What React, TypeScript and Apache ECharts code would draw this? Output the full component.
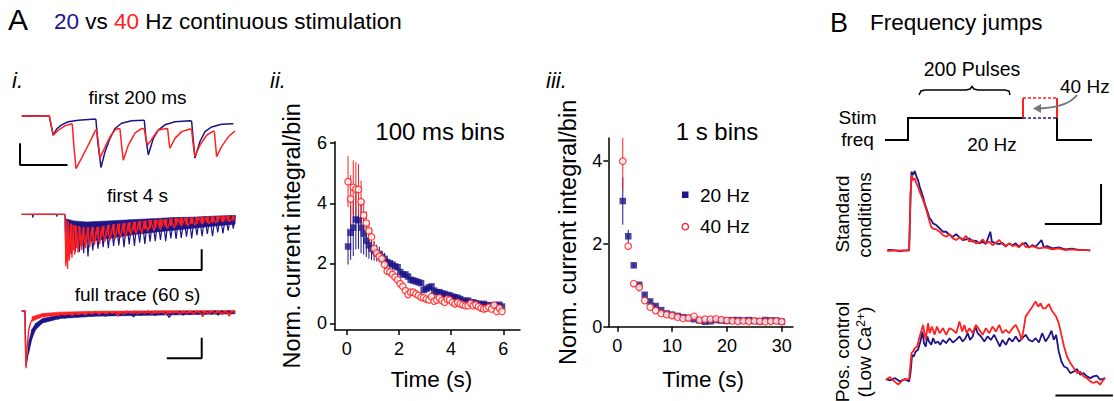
import React, { useEffect, useRef } from "react";
import * as echarts from "echarts";

const BLUE = "#1d1587";
const RED = "#ff2020";
const FONT = '"Liberation Sans", Arial, Helvetica, sans-serif';

// ---------- Panel A i: example traces ----------
// first 200 ms (time in ms, normalized current)
const trace200Blue: number[][] = [[-29,0],[-15,0.005],[0,0],[1,-0.1],[4.2,-0.37],[7.7,-0.25],[13,-0.17],[20,-0.11],[30.5,-0.08],[48.1,-0.06],[49.1,-0.07],[51,-0.5],[54.4,-0.99],[58.6,-0.69],[63.9,-0.43],[69.1,-0.24],[76.1,-0.14],[86.7,-0.09],[98.9,-0.08],[100,-0.09],[101.5,-0.4],[104.2,-0.75],[109.5,-0.43],[114.7,-0.27],[121.8,-0.17],[132.3,-0.11],[148.1,-0.09],[149.8,-0.1],[151.5,-0.45],[153.3,-0.81],[158.6,-0.49],[163.9,-0.3],[170.9,-0.21],[181.4,-0.16],[193.7,-0.15]];
const trace200Red: number[][] = [[-29,0],[0,0],[1,-0.1],[4.2,-0.37],[9.5,-0.27],[16.5,-0.19],[23.5,-0.15],[24.2,-0.16],[26,-0.6],[28.1,-1.01],[34,-0.81],[39.3,-0.62],[44.6,-0.43],[48.1,-0.29],[49.8,-0.26],[51.5,-0.5],[53.3,-0.81],[58.6,-0.6],[63.9,-0.4],[69.1,-0.27],[72.6,-0.24],[74.4,-0.25],[76,-0.55],[77.9,-0.85],[83.2,-0.56],[90.2,-0.33],[97.2,-0.24],[100,-0.25],[102,-0.45],[103.5,-0.56],[109.5,-0.4],[114.7,-0.27],[123.5,-0.24],[124.6,-0.25],[126,-0.5],[127,-0.62],[132.3,-0.43],[139.3,-0.3],[148.1,-0.25],[149.8,-0.26],[151.5,-0.55],[153.3,-0.78],[158.6,-0.56],[165.6,-0.37],[172.6,-0.29],[173.7,-0.3],[175,-0.55],[176.1,-0.78],[181.4,-0.59],[188.4,-0.4],[195.4,-0.29]];
const scale200: number[][] = [[-30.8,-0.525],[-30.8,-0.94],[19.2,-0.94]];

// first 4 s (time in s): spikes + dense envelope [t, upper, lower]
const trace4sBlue: number[][] = [[-1,0],[-0.75,0],[-0.74,-0.06],[-0.73,0],[-0.2,0],[-0.19,-0.04],[-0.18,0],[0,0],[0.02,-0.7],[0.05,-0.1],[0.08,-0.74],[0.11,-0.12],[0.15,-0.72],[0.19,-0.13],[0.23,-0.7],[0.28,-0.15],[0.33,-0.69],[0.38,-0.15],[0.43,-0.71],[0.48,-0.15],[0.53,-0.77],[0.58,-0.15],[0.64,-0.66],[0.7,-0.15],[0.76,-0.63],[0.82,-0.14],[0.88,-0.6],[0.94,-0.14],[1.0,-0.62],[1.06,-0.13],[1.12,-0.58],[1.18,-0.13],[1.24,-0.57],[1.3,-0.12],[1.36,-0.6],[1.42,-0.12],[1.48,-0.55],[1.54,-0.11],[1.6,-0.58],[1.66,-0.11],[1.72,-0.52],[1.78,-0.1],[1.84,-0.54],[1.9,-0.1],[1.96,-0.5],[2.02,-0.09],[2.08,-0.49],[2.14,-0.09],[2.2,-0.47],[2.26,-0.08],[2.32,-0.49],[2.38,-0.08],[2.44,-0.44],[2.5,-0.07],[2.56,-0.45],[2.62,-0.07],[2.68,-0.43],[2.74,-0.06],[2.8,-0.41],[2.86,-0.06],[2.92,-0.44],[2.98,-0.05],[3.04,-0.38],[3.1,-0.05],[3.16,-0.4],[3.22,-0.04],[3.28,-0.36],[3.34,-0.04],[3.4,-0.4],[3.46,-0.04],[3.52,-0.33],[3.58,-0.03],[3.64,-0.35],[3.7,-0.03],[3.76,-0.3],[3.82,-0.02],[3.88,-0.26],[3.92,-0.02]];
const trace4sRed: number[][] = [[-1,0],[-0.5,0.005],[-0.02,0],[0,-0.02],[0.02,-0.95],[0.04,-0.1],[0.06,-1.0],[0.08,-0.15],[0.1,-0.85],[0.13,-0.18],[0.16,-0.8],[0.19,-0.2],[0.22,-0.74],[0.26,-0.22],[0.3,-0.7],[0.34,-0.24],[0.38,-0.65],[0.42,-0.25],[0.47,-0.62],[0.52,-0.26],[0.57,-0.6],[0.62,-0.25],[0.68,-0.56],[0.74,-0.25],[0.8,-0.54],[0.86,-0.24],[0.92,-0.5],[0.98,-0.23],[1.04,-0.48],[1.1,-0.21],[1.16,-0.45],[1.22,-0.19],[1.28,-0.43],[1.34,-0.17],[1.4,-0.42],[1.46,-0.16],[1.52,-0.38],[1.58,-0.15],[1.64,-0.36],[1.7,-0.14],[1.77,-0.35],[1.84,-0.13],[1.91,-0.31],[1.98,-0.12],[2.05,-0.3],[2.12,-0.11],[2.2,-0.28],[2.28,-0.1],[2.36,-0.26],[2.44,-0.09],[2.52,-0.25],[2.6,-0.08],[2.68,-0.22],[2.76,-0.08],[2.84,-0.21],[2.92,-0.07],[3.0,-0.2],[3.08,-0.06],[3.16,-0.18],[3.24,-0.06],[3.32,-0.17],[3.4,-0.05],[3.48,-0.16],[3.56,-0.04],[3.64,-0.14],[3.72,-0.04],[3.8,-0.13],[3.88,-0.03],[3.92,-0.1]];
const band4sBlue: number[][] = [[0.01,-0.08,-0.58],[0.2,-0.12,-0.55],[0.5,-0.14,-0.5],[1.0,-0.12,-0.44],[1.5,-0.1,-0.38],[2.0,-0.08,-0.33],[2.5,-0.06,-0.29],[3.0,-0.05,-0.25],[3.5,-0.03,-0.21],[3.92,-0.02,-0.18]];
const band4sRed: number[][] = [[0.01,-0.1,-0.9],[0.1,-0.15,-0.75],[0.2,-0.2,-0.64],[0.4,-0.24,-0.55],[0.6,-0.24,-0.48],[0.8,-0.23,-0.43],[1.0,-0.2,-0.38],[1.3,-0.17,-0.34],[1.6,-0.14,-0.3],[2.0,-0.11,-0.25],[2.5,-0.08,-0.2],[3.0,-0.06,-0.17],[3.5,-0.04,-0.14],[3.92,-0.03,-0.11]];
const scale4s: number[][] = [[2.15,-1.02],[3.15,-1.02],[3.15,-0.64]];

// full trace 60 s (time in s)
const trace60Blue: number[][] = [[-0.95,0],[0,0],[0.1,-0.4],[0.3,-0.95],[0.48,-0.88],[0.95,-0.71],[1.2,-0.62],[1.43,-0.53],[1.7,-0.5],[1.9,-0.42],[2.3,-0.38],[2.67,-0.3],[3.2,-0.28],[3.8,-0.215],[4.5,-0.22],[5.2,-0.16],[6,-0.18],[6.7,-0.13],[7.5,-0.16],[8.5,-0.1],[9.5,-0.14],[10.5,-0.08],[11.5,-0.12],[12.5,-0.07],[13.3,-0.11],[14.2,-0.06],[15.2,-0.1],[16.2,-0.05],[17.2,-0.1],[18.2,-0.05],[19.2,-0.09],[20.2,-0.04],[21,-0.08],[22,-0.04],[23,-0.09],[24,-0.03],[25,-0.07],[26,-0.03],[27,-0.08],[28,-0.03],[29,-0.07],[30,-0.02],[31,-0.1],[32,-0.02],[33,-0.07],[34,-0.02],[35.2,-0.06],[36.2,-0.02],[37.2,-0.08],[38.2,-0.02],[39.2,-0.06],[40.2,-0.02],[41.2,-0.11],[42.2,-0.02],[43.2,-0.06],[44.2,-0.01],[45.2,-0.07],[46.2,-0.01],[47.2,-0.06],[48.2,-0.01],[49.2,-0.05],[50.2,-0.01],[51.2,-0.06],[52.2,-0.01],[53.2,-0.05],[54.2,0],[55.2,-0.07],[56.2,0],[57.2,-0.04],[58.2,0],[59,-0.04],[60,-0.01]];
const trace60Red: number[][] = [[-0.95,0],[0,0],[0.1,-0.5],[0.29,-1.0],[0.5,-0.75],[0.76,-0.53],[1.14,-0.3],[1.7,-0.19],[2.4,-0.13],[3.3,-0.09],[4.0,-0.12],[4.8,-0.07],[5.5,-0.1],[6.7,-0.05],[7.5,-0.09],[8.5,-0.04],[9.5,-0.08],[10.5,-0.04],[11.4,-0.07],[12.5,-0.03],[13.5,-0.08],[14.5,-0.03],[15.5,-0.06],[16.2,-0.02],[17.2,-0.07],[18.2,-0.02],[19.2,-0.05],[20.2,-0.01],[21.2,-0.06],[22.2,-0.01],[23.2,-0.05],[24.2,-0.01],[25,-0.04],[25.7,-0.01],[26.5,-0.09],[27.2,-0.01],[28.2,-0.05],[29.2,0],[30.2,-0.04],[31.2,0],[32.2,-0.05],[33.2,0],[34.2,-0.04],[35.2,0.005],[36.2,-0.05],[37.2,0],[38.2,-0.04],[39.2,0],[40.2,-0.06],[41.2,0],[42.2,-0.04],[43.2,0],[44.2,-0.05],[45.2,0],[46.2,-0.04],[47.2,0],[48.2,-0.05],[49.2,0.005],[50.2,-0.04],[50.8,-0.1],[51.4,0],[52.4,-0.05],[53.4,0],[54.4,-0.04],[55.4,0],[56.4,-0.06],[57.4,0],[58.4,-0.09],[59,0],[60,-0.03]];
const band60Blue: number[][] = [[1,-0.55,-0.75],[2,-0.32,-0.48],[3,-0.22,-0.33],[5,-0.13,-0.21],[10,-0.07,-0.13],[20,-0.035,-0.09],[40,-0.015,-0.07],[60,-0.005,-0.05]];
const band60Red: number[][] = [[2,-0.1,-0.18],[5,-0.045,-0.1],[10,-0.02,-0.07],[20,-0.005,-0.05],[40,0.005,-0.04],[60,0.01,-0.035]];
const scale60: number[][] = [[40.5,-0.825],[50.5,-0.825],[50.5,-0.466]];

// ---------- Panel A ii: 100 ms bins ----------
const binTime100: number[] = [0.05,0.15,0.25,0.35,0.45,0.55,0.65,0.75,0.85,0.95,1.05,1.15,1.25,1.35,1.45,1.55,1.65,1.75,1.85,1.95,2.05,2.15,2.25,2.35,2.45,2.55,2.65,2.75,2.85,2.95,3.05,3.15,3.25,3.35,3.45,3.55,3.65,3.75,3.85,3.95,4.05,4.15,4.25,4.35,4.45,4.55,4.65,4.75,4.85,4.95,5.05,5.15,5.25,5.35,5.45,5.55,5.65,5.75,5.85,5.95];
const blue100: number[] = [2.56,3.02,3.19,3.46,3.43,3.19,2.99,2.76,2.6,2.49,2.41,2.34,2.3,2.21,2.15,2.04,2.0,1.96,1.9,1.87,1.71,1.63,1.63,1.56,1.45,1.43,1.4,1.37,1.34,1.11,1.15,1.2,1.23,1.09,1.04,1.04,1.0,0.98,0.95,0.93,0.89,0.87,0.85,0.81,0.76,0.74,0.76,0.7,0.7,0.67,0.65,0.62,0.65,0.61,0.59,0.59,0.61,0.59,0.62,0.56];
const blue100Err: number[] = [0.6,0.9,0.95,1.0,0.95,0.85,0.7,0.55,0.45,0.38,0.32,0.28,0.25,0.22,0.2,0.15,0.12,0.12,0.1,0.1,0.1,0.09,0.09,0.08,0.08,0.08,0.08,0.07,0.07,0.07,0.07,0.06,0.06,0.06,0.06,0.06,0.06,0.05,0.05,0.05,0.05,0.05,0.05,0.05,0.05,0.05,0.05,0.05,0.05,0.05,0.05,0.05,0.05,0.05,0.05,0.05,0.05,0.05,0.05,0.05];
const red100: number[] = [4.72,4.14,4.53,4.47,4.46,4.05,3.6,3.34,3.08,2.88,2.49,2.34,2.23,2.15,1.96,1.74,1.71,1.63,1.54,1.45,1.32,1.23,1.09,0.96,1.04,1.04,0.98,0.93,0.87,0.85,0.81,0.78,0.89,0.74,0.78,0.85,0.76,0.7,0.81,0.78,0.7,0.65,0.7,0.65,0.62,0.59,0.59,0.67,0.59,0.62,0.56,0.51,0.48,0.5,0.54,0.48,0.61,0.4,0.51,0.4];
const red100Err: number[] = [0.85,0.8,0.9,0.9,0.85,0.7,0.5,0.4,0.35,0.3,0.25,0.22,0.2,0.18,0.15,0.12,0.12,0.1,0.1,0.1,0.09,0.09,0.08,0.08,0.08,0.08,0.07,0.07,0.07,0.07,0.06,0.06,0.06,0.06,0.06,0.06,0.05,0.05,0.05,0.05,0.05,0.05,0.05,0.05,0.05,0.05,0.05,0.05,0.05,0.05,0.05,0.05,0.05,0.05,0.05,0.05,0.05,0.05,0.05,0.05];
const ticks100X: number[] = [0, 2, 4, 6];
const ticks100Y: number[] = [0, 2, 4, 6];

// ---------- Panel A iii: 1 s bins ----------
const binTime1s: number[] = [1,2,3,4,5,6,7,8,9,10,11,12,13,14,15,16,17,18,19,20,21,22,23,24,25,26,27,28,29,30];
const blue1s: number[] = [3.03,2.18,1.48,1.01,0.77,0.61,0.5,0.4,0.32,0.29,0.26,0.23,0.21,0.18,0.15,0.12,0.13,0.16,0.15,0.14,0.16,0.16,0.15,0.16,0.14,0.13,0.16,0.15,0.15,0.12];
const blue1sErr: number[] = [0.57,0.15,0.06,0.05,0.04,0.04,0.03,0.03,0.03,0.03,0.03,0.02,0.02,0.02,0.02,0.02,0.02,0.02,0.02,0.02,0.02,0.02,0.02,0.02,0.02,0.02,0.02,0.02,0.02,0.02];
const red1s: number[] = [3.99,1.94,1.04,0.95,0.63,0.47,0.39,0.32,0.29,0.27,0.23,0.2,0.21,0.25,0.16,0.18,0.18,0.19,0.17,0.15,0.14,0.13,0.14,0.13,0.14,0.13,0.12,0.13,0.14,0.12];
const red1sErr: number[] = [0.7,0.08,0.06,0.1,0.05,0.04,0.03,0.03,0.03,0.03,0.03,0.02,0.02,0.02,0.02,0.02,0.02,0.02,0.02,0.02,0.02,0.02,0.02,0.02,0.02,0.02,0.02,0.02,0.02,0.02];
const ticks1sX: number[] = [0, 10, 20, 30];
const ticks1sY: number[] = [0, 2, 4];

// ---------- Panel B: frequency jumps (time in s, normalized signal) ----------
const stdBlue: number[][] = [[-1.94,0.01],[-1.41,0.008],[-0.82,-0.004],[-0.24,0.004],[0,0.01],[0.12,0.64],[0.21,1.0],[0.35,0.958],[0.5,1.01],[0.65,0.937],[0.79,0.895],[0.94,0.81],[1.09,0.747],[1.24,0.68],[1.38,0.6],[1.53,0.536],[1.68,0.47],[1.82,0.41],[1.97,0.388],[2.12,0.346],[2.41,0.325],[2.71,0.283],[3.0,0.24],[3.29,0.24],[3.59,0.198],[3.88,0.177],[4.18,0.21],[4.47,0.169],[4.76,0.135],[5.06,0.143],[5.35,0.156],[5.65,0.114],[5.94,0.127],[6.24,0.093],[6.53,0.114],[6.82,0.084],[7.21,0.24],[7.35,0.114],[7.71,0.093],[8.0,0.084],[8.29,0.1],[8.59,0.059],[8.88,0.093],[9.18,0.07],[9.47,0.093],[9.76,0.05],[10.06,0.084],[10.35,0.1],[10.65,0.042],[10.94,0.07],[11.24,0.05],[11.76,0.135],[11.97,0.042],[12.26,0.059],[12.71,0.03],[13.29,0.042],[13.88,0.017],[14.47,0.025],[15.06,0.01],[15.65,0.01],[16.09,0]];
const stdRed: number[][] = [[-1.94,-0.004],[-1.12,0.004],[0,0],[0.12,0.726],[0.24,0.958],[0.35,0.895],[0.5,0.916],[0.65,0.85],[0.79,0.81],[0.94,0.747],[1.24,0.64],[1.53,0.515],[1.82,0.367],[1.97,0.3],[2.12,0.28],[2.41,0.27],[2.71,0.24],[3.0,0.198],[3.29,0.177],[3.59,0.21],[3.88,0.156],[4.18,0.135],[4.47,0.169],[4.76,0.143],[5.06,0.186],[5.35,0.114],[5.65,0.135],[5.94,0.093],[6.24,0.1],[6.53,0.143],[6.82,0.093],[7.12,0.114],[7.41,0.07],[7.71,0.1],[8.0,0.135],[8.29,0.084],[8.59,0.05],[8.88,0.093],[9.18,0.059],[9.47,0.07],[9.76,0.042],[10.06,0.1],[10.35,0.05],[10.65,0.042],[10.94,0.059],[11.53,0.03],[12.12,0.042],[12.71,0.017],[13.29,0.03],[13.88,0.008],[14.47,0.017],[15.06,0.008],[16.09,0.008]];
const stdScale: number[][] = [[12.05,0.338],[17.05,0.338],[17.05,0.844]];
const posBlue: number[][] = [[-2.06,0.008],[-1.71,-0.008],[-1.26,0.021],[-0.82,-0.021],[-0.38,0.008],[0,-0.021],[0.12,0.084],[0.26,0.316],[0.41,0.295],[0.59,0.359],[0.79,0.38],[1.0,0.485],[1.18,0.612],[1.32,0.464],[1.47,0.422],[1.62,0.549],[1.76,0.485],[1.97,0.443],[2.12,0.527],[2.32,0.464],[2.56,0.485],[2.76,0.443],[3.0,0.506],[3.29,0.464],[3.59,0.527],[3.88,0.473],[4.18,0.506],[4.47,0.549],[4.76,0.485],[5.0,0.527],[5.21,0.591],[5.41,0.506],[5.65,0.549],[5.88,0.675],[6.09,0.591],[6.38,0.549],[6.68,0.485],[6.97,0.549],[7.26,0.506],[7.56,0.57],[7.85,0.485],[8.06,0.422],[8.29,0.506],[8.59,0.443],[8.88,0.527],[9.18,0.485],[9.47,0.549],[9.76,0.485],[10.06,0.527],[10.35,0.57],[10.65,0.506],[10.94,0.485],[11.24,0.527],[11.53,0.473],[11.82,0.591],[12.12,0.485],[12.41,0.549],[12.65,0.624],[12.85,0.506],[13.06,0.57],[13.29,0.359],[13.53,0.232],[13.76,0.169],[14.03,0.148],[14.32,0.084],[14.62,0.105],[14.91,0.135],[15.21,0.063],[15.5,0.084],[15.79,0.042],[16.09,0.021],[16.38,0.042],[16.68,0.051],[16.97,0],[17.41,0.021]];
const posRed: number[][] = [[-2.06,0],[-1.71,0.034],[-1.41,-0.008],[-0.97,-0.063],[-0.53,0],[0,0.008],[0.21,0.338],[0.35,0.359],[0.5,0.4],[0.71,0.422],[0.94,0.549],[1.24,0.696],[1.47,0.506],[1.68,0.717],[1.82,0.591],[2.03,0.675],[2.26,0.57],[2.47,0.675],[2.71,0.591],[3.0,0.654],[3.29,0.57],[3.59,0.654],[3.88,0.633],[4.18,0.591],[4.47,0.738],[4.71,0.612],[4.91,0.696],[5.12,0.591],[5.35,0.654],[5.65,0.591],[5.94,0.696],[6.24,0.633],[6.53,0.57],[6.82,0.654],[7.12,0.591],[7.41,0.675],[7.71,0.612],[8.0,0.696],[8.29,0.591],[8.59,0.633],[8.88,0.591],[9.18,0.654],[9.47,0.696],[9.76,0.612],[10.0,0.506],[10.21,0.675],[10.35,0.802],[10.65,0.865],[10.94,0.928],[11.24,0.992],[11.47,0.928],[11.68,0.97],[11.88,0.907],[12.12,0.907],[12.41,0.962],[12.65,0.886],[12.85,0.844],[13.06,0.802],[13.29,0.717],[13.53,0.57],[13.76,0.422],[14.03,0.295],[14.32,0.211],[14.62,0.148],[14.91,0.084],[15.21,0.105],[15.5,0.042],[15.79,0.021],[16.09,-0.021],[16.38,-0.042],[16.68,-0.021],[16.97,-0.063],[17.26,0],[17.41,0.021]];
const posScale: number[][] = [[13.0,-0.2],[18.1,-0.2]];

const hiddenAxis = (gridIndex: number, min: number, max: number) => ({ type: "value", gridIndex, min, max, show: false });

const lineSeries = (data: number[][], color: string, axis: number, width: number) => ({
  type: "line", xAxisIndex: axis, yAxisIndex: axis, data, showSymbol: false, symbol: "none",
  lineStyle: { color, width }, itemStyle: { color }, silent: true, animation: false,
});

// dense noise band between an upper and lower envelope, drawn segment by segment
const bandSeries = (env: number[][], color: string, axis: number) => ({
  type: "custom", xAxisIndex: axis, yAxisIndex: axis, clip: true, silent: true,
  data: env.slice(0, -1).map((p, i) => [p[0], p[1], p[2], env[i + 1][0], env[i + 1][1], env[i + 1][2]]),
  encode: { x: 0, y: 1 },
  renderItem: (params: any, api: any) => {
    const a = api.coord([api.value(0), api.value(1)]);
    const b = api.coord([api.value(3), api.value(4)]);
    const c = api.coord([api.value(3), api.value(5)]);
    const d = api.coord([api.value(0), api.value(2)]);
    return { type: "polygon", shape: { points: [a, b, c, d] }, style: { fill: color, stroke: color, lineWidth: 0.6 } };
  },
});

const errSeries = (x: number[], y: number[], e: number[], color: string, axis: number) => ({
  type: "custom", xAxisIndex: axis, yAxisIndex: axis, clip: true, silent: true,
  data: x.map((t, i) => [t, y[i], e[i]]),
  encode: { x: 0, y: 1 },
  renderItem: (params: any, api: any) => {
    const xv = api.value(0), yv = api.value(1), ev = api.value(2);
    const p1 = api.coord([xv, yv + ev]);
    const p2 = api.coord([xv, yv - ev]);
    return { type: "line", shape: { x1: p1[0], y1: p1[1], x2: p2[0], y2: p2[1] }, style: { stroke: color, lineWidth: 1 } };
  },
});

const axisStyle = { color: "#000", width: 1.5 };
const dataAxis = (gridIndex: number, min: number, max: number, ticks: number[], name: string, nameGap: number, nameSize: number, labelMargin: number, padding: number[]) => ({
  type: "value", gridIndex, min, max, name, nameLocation: "middle", nameGap,
  nameTextStyle: { fontSize: nameSize, fontFamily: FONT, color: "#000", padding },
  axisLine: { show: true, onZero: false, lineStyle: axisStyle },
  axisTick: { show: true, length: 5, lineStyle: axisStyle, customValues: ticks },
  axisLabel: { customValues: ticks, fontSize: 18, fontFamily: FONT, color: "#000", margin: labelMargin },
  splitLine: { show: false },
});

const txt = (text: string, x: number, y: number, size: number, extra: any = {}) => ({
  type: "text", x, y, silent: true, rotation: extra.rotation || 0,
  style: {
    text, fontSize: size, fontFamily: FONT, fill: extra.fill || "#000",
    fontStyle: extra.fontStyle || "normal",
    align: extra.align || "left", textAlign: extra.align || "left",
    verticalAlign: "middle", textVerticalAlign: "middle",
    rich: extra.rich,
  },
});

export default function App() {
  const ref = useRef<HTMLDivElement>(null);
  useEffect(() => {
    if (!ref.current) return;
    const chart = echarts.init(ref.current, null, { renderer: "svg" });
    const option: any = {
      animation: false,
      backgroundColor: "#fff",
      textStyle: { fontFamily: FONT },
      grid: [
        { left: 19.85, top: 105.6, width: 215.65, height: 67.6 },
        { left: 21.6, top: 203.4, width: 214.8, height: 71.1 },
        { left: 21.5, top: 302.4, width: 214.5, height: 71.6 },
        { left: 335, top: 141.7, width: 185, height: 188.3 },
        { left: 608.3, top: 138, width: 184.7, height: 188.7 },
        { left: 885.5, top: 163.8, width: 230.2, height: 94.8 },
        { left: 885.5, top: 293.1, width: 230.2, height: 108.2 },
      ],
      xAxis: [
        hiddenAxis(0, -31, 196),
        hiddenAxis(1, -1.0, 3.95),
        hiddenAxis(2, -1.0, 60.3),
        dataAxis(3, -0.45, 6.64, ticks100X, "Time (s)", 38, 22.5, 10, [0, 0, 0, 8]),
        dataAxis(4, -1.64, 32.06, ticks1sX, "Time (s)", 41, 22.5, 10, [0, 0, 0, 5]),
        hiddenAxis(5, -2.1, 18.2),
        hiddenAxis(6, -2.1, 18.2),
      ],
      yAxis: [
        hiddenAxis(0, -1.1, 0.2),
        hiddenAxis(1, -1.1, 0.2),
        hiddenAxis(2, -1.1, 0.15),
        dataAxis(3, -0.22, 6.05, ticks100Y, "Norm. current integral/bin", 31, 23.5, 8, [0, 0, 0, 0]),
        dataAxis(4, 0, 4.55, ticks1sY, "Norm. current integral/bin", 28, 23.5, 6, [0, 0, 0, 0]),
        hiddenAxis(5, -0.1, 1.1),
        hiddenAxis(6, -0.27, 1.1),
      ],
      series: [
        lineSeries(trace200Blue, BLUE, 0, 1.5),
        lineSeries(trace200Red, RED, 0, 1.5),
        lineSeries(scale200, "#000", 0, 2),
        bandSeries(band4sBlue, BLUE, 1),
        lineSeries(trace4sBlue, BLUE, 1, 1.2),
        bandSeries(band4sRed, RED, 1),
        lineSeries(trace4sRed, RED, 1, 1.2),
        lineSeries(scale4s, "#000", 1, 2),
        bandSeries(band60Blue, BLUE, 2),
        lineSeries(trace60Blue, BLUE, 2, 1.4),
        bandSeries(band60Red, RED, 2),
        lineSeries(trace60Red, RED, 2, 1.4),
        lineSeries(scale60, "#000", 2, 2),
        errSeries(binTime100, blue100, blue100Err, BLUE, 3),
        { type: "scatter", name: "20 Hz", xAxisIndex: 3, yAxisIndex: 3, symbol: "rect", symbolSize: 6.5, itemStyle: { color: BLUE }, data: binTime100.map((t, i) => [t, blue100[i]]) },
        errSeries(binTime100, red100, red100Err, RED, 3),
        { type: "scatter", name: "40 Hz", xAxisIndex: 3, yAxisIndex: 3, symbol: "circle", symbolSize: 6.5, itemStyle: { color: "#fff", borderColor: RED, borderWidth: 1.3 }, data: binTime100.map((t, i) => [t, red100[i]]) },
        errSeries(binTime1s, blue1s, blue1sErr, BLUE, 4),
        { type: "scatter", name: "20 Hz", xAxisIndex: 4, yAxisIndex: 4, symbol: "rect", symbolSize: 6.5, itemStyle: { color: BLUE }, data: binTime1s.map((t, i) => [t, blue1s[i]]) },
        errSeries(binTime1s, red1s, red1sErr, RED, 4),
        { type: "scatter", name: "40 Hz", xAxisIndex: 4, yAxisIndex: 4, symbol: "circle", symbolSize: 6.5, itemStyle: { color: "#fff", borderColor: RED, borderWidth: 1.3 }, data: binTime1s.map((t, i) => [t, red1s[i]]) },
        lineSeries(stdBlue, BLUE, 5, 1.8),
        lineSeries(stdRed, RED, 5, 1.8),
        lineSeries(stdScale, "#000", 5, 2),
        lineSeries(posBlue, BLUE, 6, 1.8),
        lineSeries(posRed, RED, 6, 1.8),
        lineSeries(posScale, "#000", 6, 2),
      ],
      graphic: [
        txt("A", 8, 19.5, 30),
        txt("{b|20} vs {r|40} Hz continuous stimulation", 54, 21.3, 22.5, {
          rich: {
            b: { fill: BLUE, fontSize: 22.5, fontFamily: FONT },
            r: { fill: RED, fontSize: 22.5, fontFamily: FONT },
          },
        }),
        txt("i.", 12, 80, 22, { fontStyle: "italic" }),
        txt("ii.", 270, 80, 22, { fontStyle: "italic" }),
        txt("iii.", 546, 80, 22, { fontStyle: "italic" }),
        txt("first 200 ms", 137.5, 97.5, 19, { align: "center" }),
        txt("first 4 s", 137.5, 195.5, 19, { align: "center" }),
        txt("full trace (60 s)", 137.5, 294.5, 19, { align: "center" }),
        txt("100 ms bins", 440, 131, 24, { align: "center" }),
        txt("1 s bins", 717, 131, 24, { align: "center" }),
        { type: "rect", silent: true, shape: { x: 682, y: 191.5, width: 6.5, height: 6.5 }, style: { fill: BLUE } },
        { type: "circle", silent: true, shape: { cx: 685.3, cy: 226.7, r: 3.2 }, style: { fill: "#fff", stroke: RED, lineWidth: 1.3 } },
        txt("20 Hz", 700, 195, 19),
        txt("40 Hz", 700, 226.7, 19),
        txt("B", 830, 22.5, 27),
        txt("Frequency jumps", 870, 22.5, 22.5),
        txt("200 Pulses", 972, 69, 19.5, { align: "center" }),
        txt("40 Hz", 1060, 86, 19),
        txt("Stim", 857.5, 117.5, 19, { align: "center" }),
        txt("freq", 857.5, 139, 19, { align: "center" }),
        txt("20 Hz", 992, 144, 19, { align: "center" }),
        { type: "polyline", silent: true, shape: { points: [[885, 140], [908, 140], [908, 118], [1023, 118]] }, style: { stroke: "#000", lineWidth: 2, fill: null } },
        { type: "polyline", silent: true, shape: { points: [[1057, 118], [1057, 140], [1092, 140]] }, style: { stroke: "#000", lineWidth: 2, fill: null } },
        { type: "line", silent: true, shape: { x1: 1023, y1: 118, x2: 1023, y2: 98 }, style: { stroke: RED, lineWidth: 2 } },
        { type: "line", silent: true, shape: { x1: 1057, y1: 118, x2: 1057, y2: 98 }, style: { stroke: RED, lineWidth: 2 } },
        { type: "line", silent: true, shape: { x1: 1023, y1: 98, x2: 1057, y2: 98 }, style: { stroke: RED, lineWidth: 1.5, lineDash: [3, 2] } },
        { type: "line", silent: true, shape: { x1: 1023, y1: 118, x2: 1057, y2: 118 }, style: { stroke: BLUE, lineWidth: 1.5, lineDash: [3, 2] } },
        { type: "polyline", silent: true, shape: { points: [[919, 95], [921, 91], [925, 90], [966, 90], [970, 89], [972, 86.5], [974, 89], [978, 90], [1005, 90], [1009, 91], [1010, 95]] }, style: { stroke: "#000", lineWidth: 1.5, fill: null } },
        { type: "bezierCurve", silent: true, shape: { x1: 1077, y1: 95, cpx1: 1068, cpy1: 107, x2: 1040, y2: 108.5 }, style: { stroke: "#777", lineWidth: 2, fill: null } },
        { type: "polygon", silent: true, shape: { points: [[1033, 108.5], [1041, 104], [1041, 113]] }, style: { fill: "#777" } },
        txt("Standard", 842.5, 214, 19, { align: "center", rotation: Math.PI / 2 }),
        txt("conditions", 864, 215, 19, { align: "center", rotation: Math.PI / 2 }),
        txt("Pos. control", 842.5, 352, 19, { align: "center", rotation: Math.PI / 2 }),
        txt("(Low Ca{s|2+})", 864, 352, 19, {
          align: "center", rotation: Math.PI / 2,
          rich: { s: { fontSize: 12, fontFamily: FONT, fill: "#000", verticalAlign: "top" } },
        }),
      ],
    };
    chart.setOption(option);
    return () => chart.dispose();
  }, []);
  return <div ref={ref} style={{ position: "fixed", left: 0, top: 0, width: 1114, height: 401, background: "#fff" }} />;
}
